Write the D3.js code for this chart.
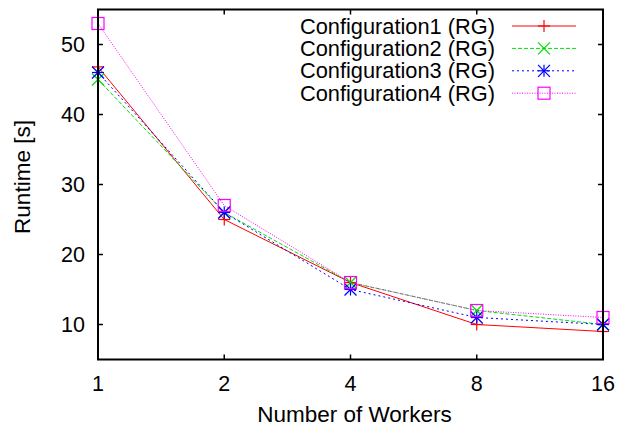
<!DOCTYPE html>
<html>
<head>
<meta charset="utf-8">
<script src="https://cdn.jsdelivr.net/npm/d3@7"></script>
<style>
  body { margin: 0; background: #fff; }
  svg { display: block; font-family: "Liberation Sans", Arial, Helvetica, sans-serif; }
  .tick-label { font-size: 21.5px; fill: #000; }
  .axis-title { font-size: 22.5px; fill: #000; }
  .legend-label { font-size: 21.8px; fill: #000; }
</style>
</head>
<body>
<svg id="chart" width="621" height="426"></svg>
<script>
const workers = [1, 2, 4, 8, 16];
const yTicks = [10, 20, 30, 40, 50];

const config1 = [46.8, 25, 16, 10, 9];
const config2 = [45, 26, 16, 12, 10];
const config3 = [46, 26, 15, 11, 10];
const config4 = [53, 27, 16, 12, 11];

const seriesNames = ['Configuration1 (RG)', 'Configuration2 (RG)', 'Configuration3 (RG)', 'Configuration4 (RG)'];
const seriesColors = ['#ff0000', '#00e000', '#0000ff', '#ff00ff'];
const seriesDash = [null, '4,2', '2,3', '1,1.5'];
const seriesMarker = ['plus', 'cross', 'star', 'square'];

const series = [config1, config2, config3, config4].map((values, i) => ({
  name: seriesNames[i],
  color: seriesColors[i],
  dash: seriesDash[i],
  marker: seriesMarker[i],
  points: values.map((v, j) => ({ x: workers[j], y: v }))
}));

const svg = d3.select('#chart');
const margin = { top: 9.5, right: 18, bottom: 66.5, left: 98 };
const width = 621, height = 426;
const x = d3.scaleLog().base(2).domain([1, 16]).range([margin.left, width - margin.right]);
const y = d3.scaleLinear().domain([5, 55]).range([height - margin.bottom, margin.top]);
const tickLen = 5;

// ticks (inward, mirrored)
const ticks = svg.append('g').attr('stroke', '#000').attr('stroke-width', 1.5);
workers.forEach((w) => {
  ticks.append('line').attr('x1', x(w)).attr('x2', x(w)).attr('y1', y(5)).attr('y2', y(5) - tickLen);
  ticks.append('line').attr('x1', x(w)).attr('x2', x(w)).attr('y1', y(55)).attr('y2', y(55) + tickLen);
});
yTicks.forEach((t) => {
  ticks.append('line').attr('x1', x(1)).attr('x2', x(1) + tickLen).attr('y1', y(t)).attr('y2', y(t));
  ticks.append('line').attr('x1', x(16)).attr('x2', x(16) - tickLen).attr('y1', y(t)).attr('y2', y(t));
});

// tick labels
svg.append('g').selectAll('text').data(yTicks).join('text')
  .attr('class', 'tick-label').attr('text-anchor', 'end')
  .attr('x', x(1) - 13).attr('y', (d) => y(d) + 7.5).text((d) => d);
svg.append('g').selectAll('text').data(workers).join('text')
  .attr('class', 'tick-label').attr('text-anchor', 'middle')
  .attr('x', (d) => x(d)).attr('y', 391).text((d) => d);

// axis titles
svg.append('text').attr('class', 'axis-title').attr('text-anchor', 'middle')
  .attr('x', (x(1) + x(16)) / 2 + 4).attr('y', 422).text('Number of Workers');
svg.append('text').attr('class', 'axis-title').attr('text-anchor', 'middle')
  .attr('transform', 'translate(30,177) rotate(-90)').text('Runtime [s]');

function drawMarker(g, type, cx, cy, color) {
  const s = 6;
  const m = g.append('g').attr('transform', `translate(${cx},${cy})`)
    .attr('stroke', color).attr('stroke-width', 1.2).attr('fill', 'none');
  if (type === 'plus' || type === 'star') {
    m.append('line').attr('x1', -s).attr('x2', s).attr('y1', 0).attr('y2', 0);
    m.append('line').attr('x1', 0).attr('x2', 0).attr('y1', -s).attr('y2', s);
  }
  if (type === 'cross' || type === 'star') {
    m.append('line').attr('x1', -s).attr('x2', s).attr('y1', -s).attr('y2', s);
    m.append('line').attr('x1', -s).attr('x2', s).attr('y1', s).attr('y2', -s);
  }
  if (type === 'square') {
    m.append('rect').attr('x', -s).attr('y', -s).attr('width', 2 * s).attr('height', 2 * s);
  }
}

const line = d3.line().x((d) => x(d.x)).y((d) => y(d.y));
const plot = svg.append('g');
series.forEach((s) => {
  plot.append('path').datum(s.points)
    .attr('fill', 'none').attr('stroke', s.color).attr('stroke-width', 1)
    .attr('stroke-dasharray', s.dash).attr('d', line);
  s.points.forEach((p) => drawMarker(plot, s.marker, x(p.x), y(p.y), s.color));
});

// legend
const legend = svg.append('g');
series.forEach((s, i) => {
  const cy = 26 + i * 22.4;
  legend.append('text').attr('class', 'legend-label').attr('text-anchor', 'end')
    .attr('x', 495).attr('y', cy + 7.5).text(s.name);
  legend.append('line').attr('x1', 512).attr('x2', 576).attr('y1', cy).attr('y2', cy)
    .attr('stroke', s.color).attr('stroke-width', 1).attr('stroke-dasharray', s.dash);
  drawMarker(legend, s.marker, 544, cy, s.color);
});

// border
svg.append('rect').attr('x', x(1)).attr('y', y(55))
  .attr('width', x(16) - x(1)).attr('height', y(5) - y(55))
  .attr('fill', 'none').attr('stroke', '#000').attr('stroke-width', 2);
</script>
</body>
</html>
